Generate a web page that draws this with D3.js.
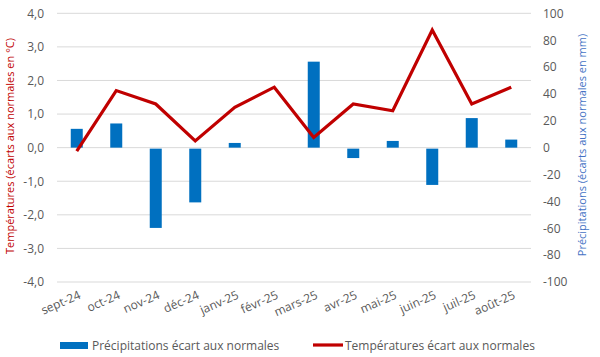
<!DOCTYPE html>
<html><head><meta charset="utf-8">
<script src="https://cdn.jsdelivr.net/npm/d3@7"></script>
<style>body{margin:0;background:#fff}svg{display:block}text{font-family:"Open Sans",sans-serif}</style>
</head><body><svg id="c" width="600" height="357"></svg>
<script>
const months = ["sept-24","oct-24","nov-24","déc-24","janv-25","févr-25","mars-25","avr-25","mai-25","juin-25","juil-25","août-25"];
const precip = [14, 18, -59, -40, 3.5, 0, 64, -7, 5, -27, 22, 6];
const temp = [-0.1, 1.7, 1.3, 0.2, 1.2, 1.8, 0.3, 1.3, 1.1, 3.5, 1.3, 1.8];
const leftTicks = [4,3,2,1,0,-1,-2,-3,-4];
const rightTicks = [100,80,60,40,20,0,-20,-40,-60,-80,-100];
const labels = {left:"Températures (écarts aux normales  en °C)", right:"Précipitations (écarts aux normales en mm)", bar:"Précipitations écart aux normales", line:"Températures écart aux normales"};

const svg = d3.select("#c");
const x0 = 57, x1 = 531, yT = 13.3, yB = 282;
const x = d3.scaleBand().domain(months).range([x0, x1]);
const yL = d3.scaleLinear().domain([-4,4]).range([yB,yT]);
const yR = d3.scaleLinear().domain([-100,100]).range([yB,yT]);
const grey = "#595959";

// gridlines
svg.append("g").selectAll("line").data(leftTicks).join("line")
  .attr("x1",x0).attr("x2",x1).attr("y1",d=>yL(d)).attr("y2",d=>yL(d))
  .attr("stroke","#d9d9d9").attr("stroke-width",1);

// left axis
const fmt = d => d3.format(".1f")(d).replace(".",",").replace("−","-");
const gl = svg.append("g").attr("transform",`translate(${x0},0)`)
  .call(d3.axisLeft(yL).tickValues(leftTicks).tickFormat(fmt).tickSize(0).tickPadding(13));
gl.select(".domain").remove();
gl.selectAll("text").attr("fill",grey).attr("font-size","12px").style("font-family","Open Sans");

const gr = svg.append("g").attr("transform",`translate(${x1},0)`)
  .call(d3.axisRight(yR).tickValues(rightTicks).tickFormat(d=>String(d)).tickSize(0).tickPadding(12));
gr.select(".domain").remove();
gr.selectAll("text").attr("fill",grey).attr("font-size","12px").style("font-family","Open Sans");

// bars
const bw = 12;
svg.append("g").selectAll("rect").data(precip).join("rect")
  .attr("x",(d,i)=>x(months[i])+x.bandwidth()/2-bw/2)
  .attr("width",bw)
  .attr("y",d=>d>=0?yR(d):yR(0)+1)
  .attr("height",d=>Math.abs(yR(d)-yR(0)))
  .attr("fill","#0070c0");

// line
const line = d3.line().x((d,i)=>x(months[i])+x.bandwidth()/2).y(d=>yL(d));
svg.append("path").datum(temp).attr("d",line).attr("fill","none")
  .attr("stroke","#c00000").attr("stroke-width",3.2).attr("stroke-linejoin","miter");

// x labels
svg.append("g").selectAll("text").data(months).join("text")
  .attr("transform",d=>`translate(${x(d)+x.bandwidth()/2+3},${yB+12}) rotate(-24)`)
  .attr("text-anchor","end").attr("dy","0.35em")
  .attr("fill",grey).attr("font-size","12px").text(d=>d);

// axis titles
svg.append("text").attr("transform","translate(14,146) rotate(-90)")
  .attr("text-anchor","middle").attr("fill","#c00000").attr("font-size","11px").text(labels.left);
svg.append("text").attr("transform","translate(586,145) rotate(-90)")
  .attr("text-anchor","middle").attr("fill","#4472c4").attr("font-size","11px").text(labels.right);

// legend
svg.append("rect").attr("x",60).attr("y",342).attr("width",28).attr("height",7).attr("fill","#0070c0");
svg.append("text").attr("x",92).attr("y",345.5).attr("dy","0.35em").attr("fill",grey).attr("font-size","12px").text(labels.bar);
svg.append("line").attr("x1",313).attr("x2",343).attr("y1",345).attr("y2",345).attr("stroke","#c00000").attr("stroke-width",3.2);
svg.append("text").attr("x",345).attr("y",345.5).attr("dy","0.35em").attr("fill",grey).attr("font-size","12px").text(labels.line);
</script></body></html>
